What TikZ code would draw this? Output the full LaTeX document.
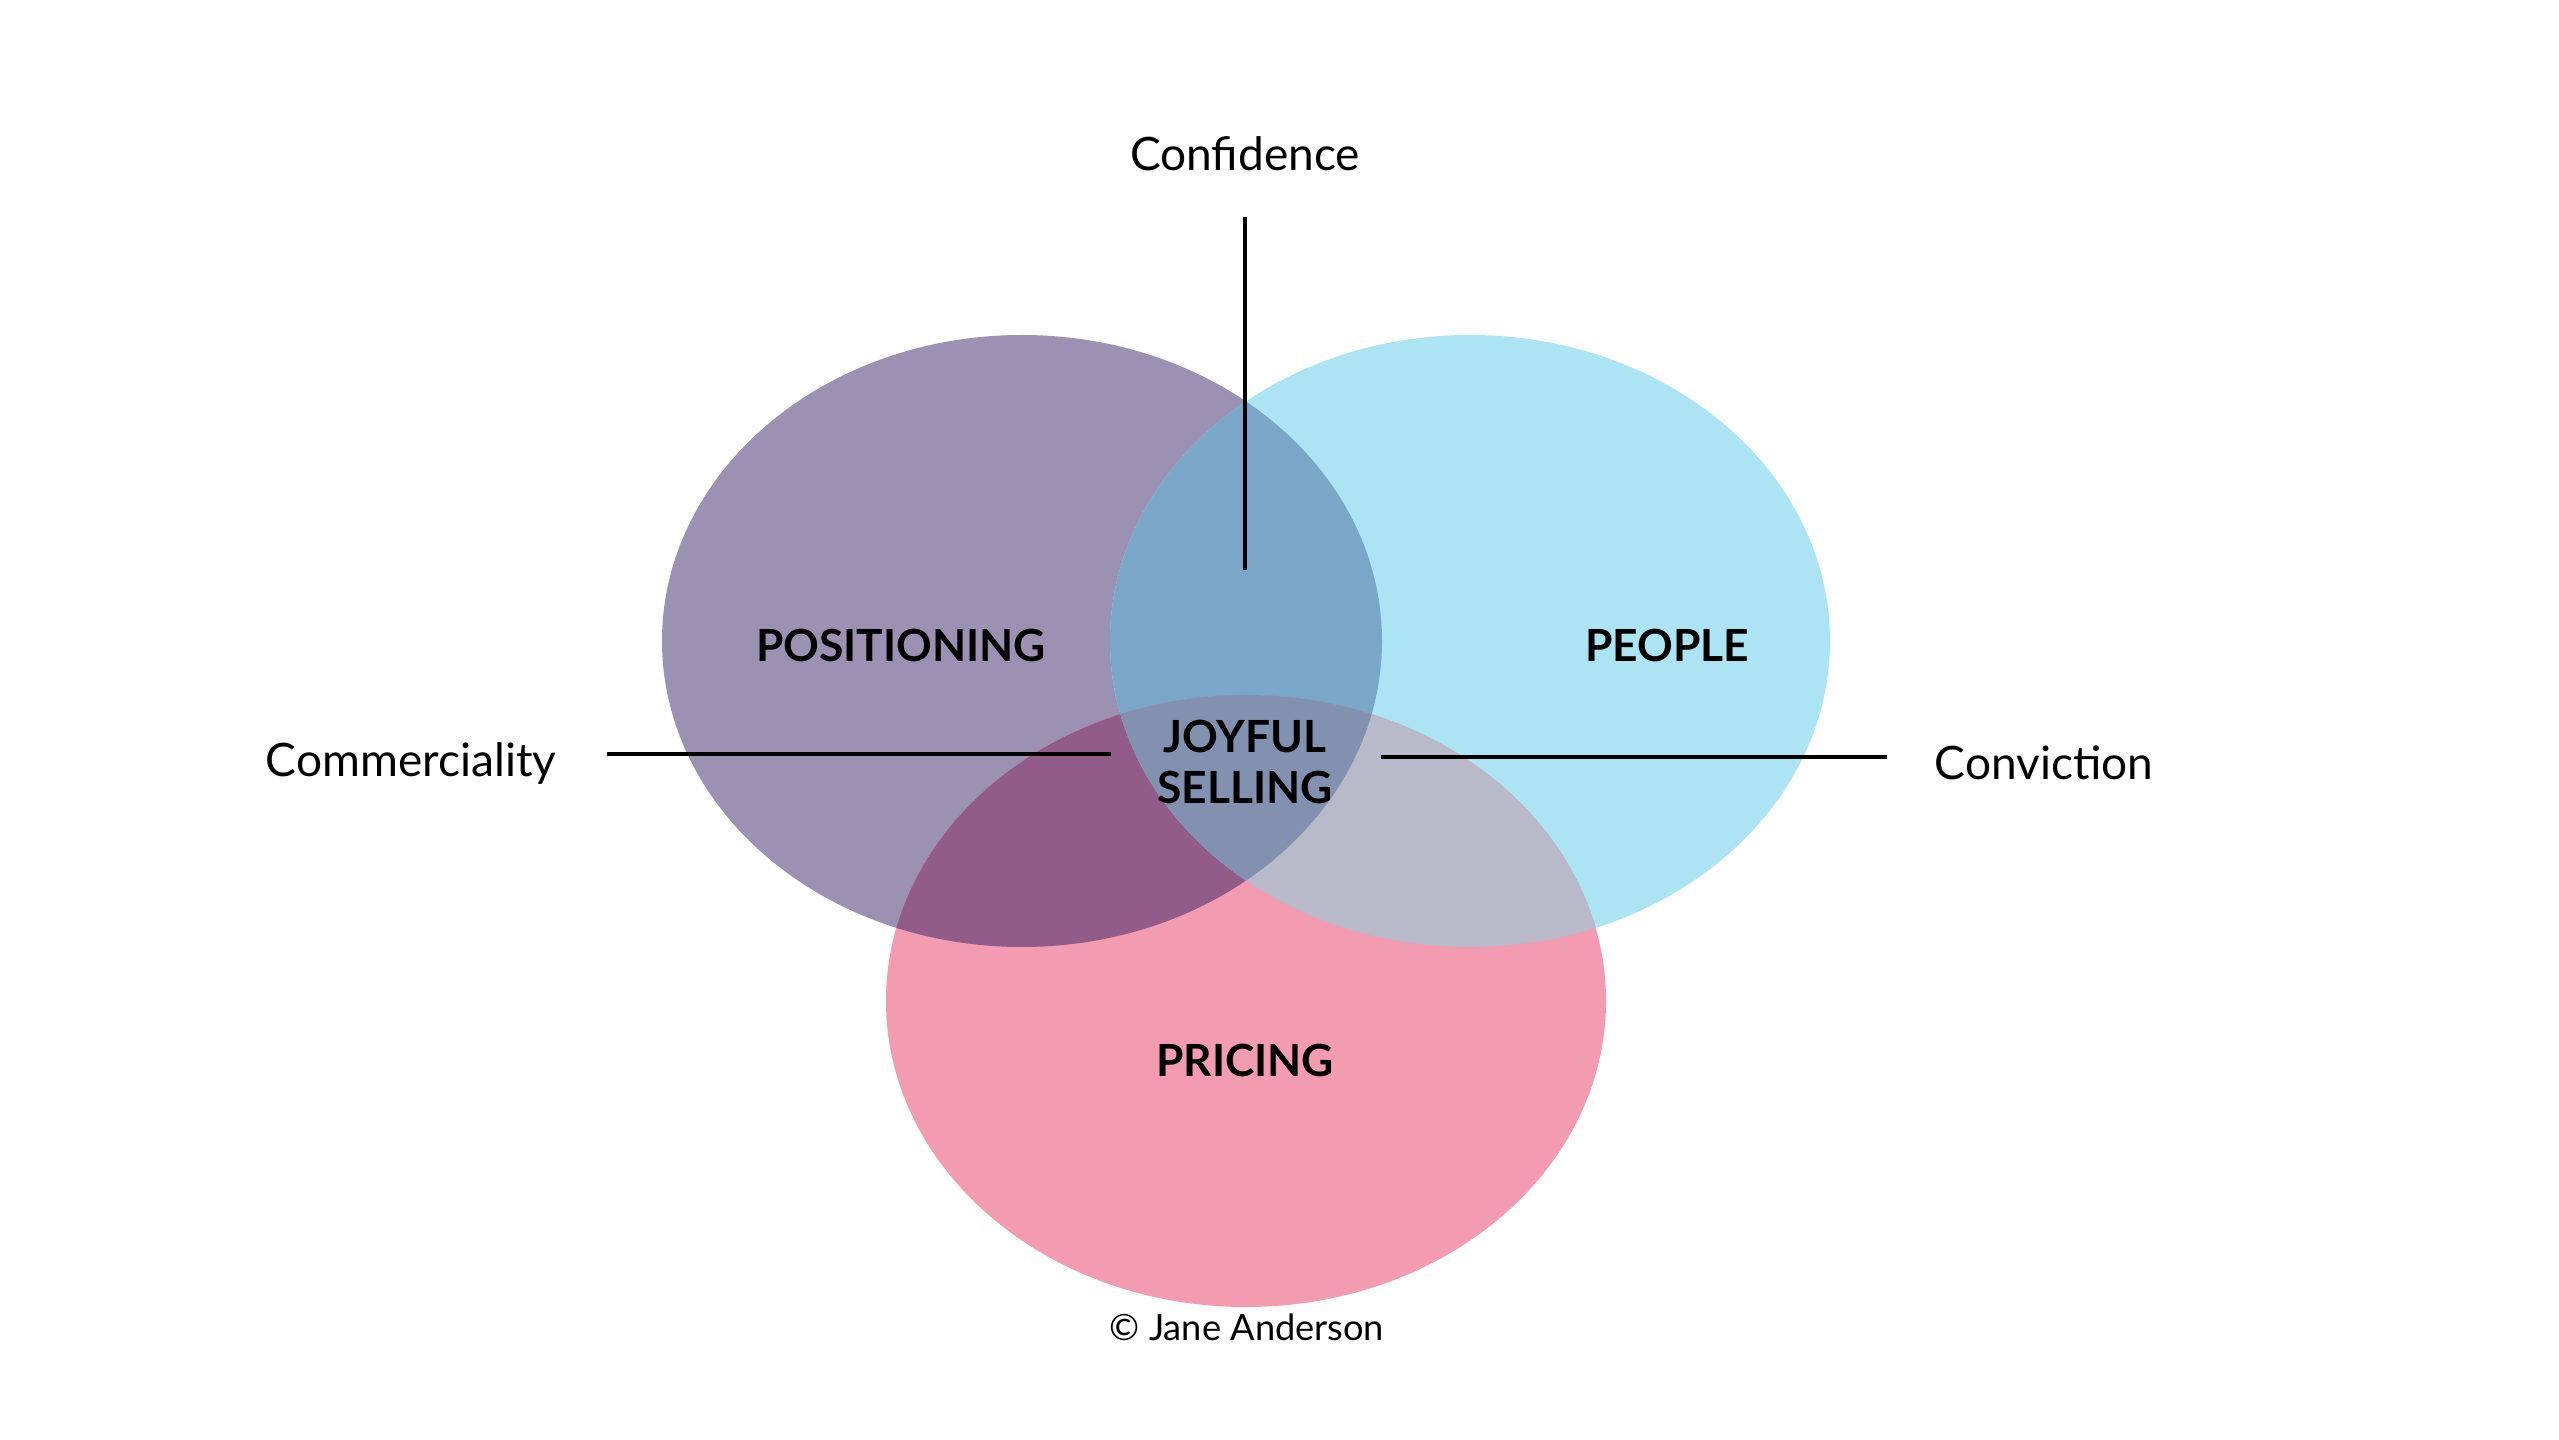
\documentclass[tikz,border=0pt]{standalone}
\usepackage{fontspec}
\setmainfont{Lato}
\definecolor{cpur}{RGB}{155,145,179}
\definecolor{ccya}{RGB}{173,228,243}
\definecolor{cpin}{RGB}{243,155,176}
\definecolor{cpc}{RGB}{122,166,200}
\definecolor{cpp}{RGB}{145,91,138}
\definecolor{ccp}{RGB}{184,185,201}
\definecolor{call}{RGB}{131,145,177}
\begin{document}
\begin{tikzpicture}[x=0.01cm,y=-0.01cm,
  biglabel/.style={font=\fontsize{12.6}{14}\selectfont\bfseries,anchor=base,inner sep=0pt},
  sidelabel/.style={font=\fontsize{13.1}{15}\selectfont,anchor=base,inner sep=0pt},
  leader/.style={draw=black,line width=0.9pt}]
\useasboundingbox (0,0) rectangle (2559,1440);
\fill[white] (0,0) rectangle (2559,1440);
% ellipses
\def\pur{(1022,641) ellipse [x radius=360, y radius=306]}
\def\cya{(1470,641) ellipse [x radius=360, y radius=306]}
\def\pin{(1246,1001) ellipse [x radius=360, y radius=306]}
\fill[cpur] \pur;
\fill[ccya] \cya;
\fill[cpin] \pin;
\begin{scope}\clip \pur; \fill[cpc] \cya; \end{scope}
\begin{scope}\clip \pur; \fill[cpp] \pin; \end{scope}
\begin{scope}\clip \cya; \fill[ccp] \pin; \end{scope}
\begin{scope}\clip \pur; \clip \cya; \fill[call] \pin; \end{scope}
% labels
\node[biglabel] (positioning) at (901,662) {POSITIONING};
\node[biglabel] (people) at (1667,662) {PEOPLE};
\node[biglabel] (pricing) at (1245,1077) {PRICING};
\node[biglabel] (joyful) at (1245,753) {JOYFUL};
\node[biglabel] (selling) at (1245,804) {SELLING};
\node[sidelabel] (confidence) at (1245,171) {Confidence};
\node[sidelabel] (commerciality) at (411,777) {Commerciality};
\node[sidelabel] (conviction) at (2044,780) {Conviction};
\node[anchor=base,inner sep=0pt,font=\fontsize{10.3}{12}\selectfont] (copyright) at (1247,1341) {© Jane Anderson};
% leader lines
\coordinate (conftop) at (1245,217);
\coordinate (confbot) at (1245,570);
\coordinate (comL) at (607,754);
\coordinate (comR) at (1111,754);
\coordinate (conL) at (1381,757);
\coordinate (conR) at (1887,757);
\draw[leader] (conftop) -- (confbot);
\draw[leader] (comL) -- (comR);
\draw[leader] (conL) -- (conR);
\end{tikzpicture}
\end{document}
